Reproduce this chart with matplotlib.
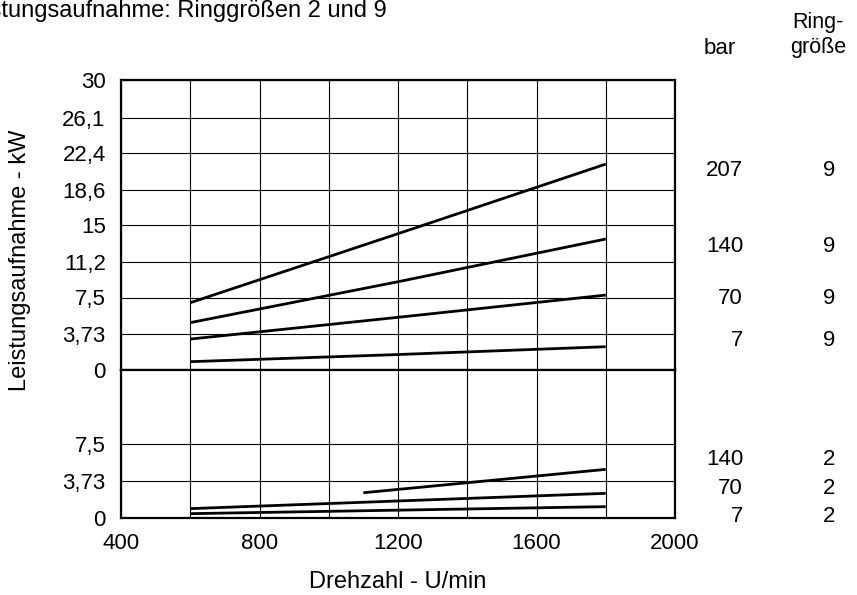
import matplotlib
matplotlib.use('Agg')
import matplotlib.pyplot as plt
import matplotlib.transforms as mtransforms

plt.rcParams['font.family'] = ['Liberation Sans', 'DejaVu Sans']
FS = 16
FS_LAB = 17

# --- data ---------------------------------------------------------------
rpm = [600, 1200, 1800]
ring9_bar = ['207', '140', '70', '7']
ring9_kw = [
    [6.96, 14.1, 21.3],
    [4.9, 9.13, 13.55],
    [3.2, 5.45, 7.75],
    [0.86, 1.6, 2.41],
]
ring2_bar = ['140', '70', '7']
ring2_rpm = [[1100, 1800], [600, 1800], [600, 1800]]
ring2_kw = [
    [2.56, 4.93],
    [0.95, 2.5],
    [0.44, 1.15],
]

upper_ticks = [0, 3.73, 7.5, 11.2, 15, 18.6, 22.4, 26.1, 30]
upper_labels = ['0', '3,73', '7,5', '11,2', '15', '18,6', '22,4', '26,1', '30']
lower_ticks = [0, 3.73, 7.5]
lower_labels = ['0', '3,73', '7,5']
x_ticks = [400, 600, 800, 1000, 1200, 1400, 1600, 1800, 2000]
x_labels = ['400', '', '800', '', '1200', '', '1600', '', '2000']

# label heights next to the curves (layout only)
ring9_label_y = [20.6, 12.8, 7.4, 3.1]
ring2_label_y = [5.9, 3.0, 0.13]

W, H = 857, 595
fig = plt.figure(figsize=(W / 100, H / 100), dpi=100)

L, R = 121 / W, 675 / W
y_top, y_mid, y_bot = 1 - 80 / H, 1 - 370 / H, 1 - 518 / H
ax_u = fig.add_axes([L, y_mid, R - L, y_top - y_mid])
ax_l = fig.add_axes([L, y_bot, R - L, y_mid - y_bot])

for ax in (ax_u, ax_l):
    ax.set_xlim(400, 2000)
    ax.set_xticks(x_ticks)
    ax.tick_params(length=0, labelsize=FS, pad=11)
    ax.grid(True, color='black', lw=0.8)
    ax.set_axisbelow(True)
    for sp in ax.spines.values():
        sp.set_linewidth(1.6)

ax_u.set_ylim(0, 30)
ax_u.set_yticks(upper_ticks)
ax_u.set_yticklabels(upper_labels)
ax_u.set_xticklabels([])

ax_l.set_ylim(0, 15)
ax_l.set_yticks(lower_ticks)
ax_l.set_yticklabels(lower_labels)
ax_l.set_xticklabels(x_labels)
ax_l.tick_params(axis='x', pad=11)

for ys in ring9_kw:
    ax_u.plot(rpm, ys, color='black', lw=2.0, solid_capstyle='butt', zorder=3)
for xs, ys in zip(ring2_rpm, ring2_kw):
    ax_l.plot(xs, ys, color='black', lw=2.0, solid_capstyle='butt', zorder=3)

# right-hand labels: bar / Ringgröße
bar_x, ring_x = 743 / W, 835 / W
tr_u = mtransforms.blended_transform_factory(fig.transFigure, ax_u.transData)
tr_l = mtransforms.blended_transform_factory(fig.transFigure, ax_l.transData)
for lab, yy in zip(ring9_bar, ring9_label_y):
    fig.text(bar_x, yy, lab, transform=tr_u, ha='right', va='center', fontsize=FS)
    fig.text(ring_x, yy, '9', transform=tr_u, ha='right', va='center', fontsize=FS)
for lab, yy in zip(ring2_bar, ring2_label_y):
    fig.text(bar_x, yy, lab, transform=tr_l, ha='right', va='center', fontsize=FS)
    fig.text(ring_x, yy, '2', transform=tr_l, ha='right', va='center', fontsize=FS)

fig.text(720 / W, 1 - 48 / H, 'bar', ha='center', va='center', fontsize=FS)
fig.text(818 / W, 1 - 35 / H, 'Ring-\ngröße', ha='center', va='center',
         fontsize=15.5, linespacing=1.3)

fig.text(387 / W, 1 - 11 / H, 'Leistungsaufnahme: Ringgrößen 2 und 9',
         ha='right', va='center', fontsize=FS_LAB)
fig.text(20 / W, 1 - 260 / H, 'Leistungsaufnahme - kW', rotation=90,
         ha='center', va='center', fontsize=FS_LAB)
fig.text(398 / W, 1 - 582 / H, 'Drehzahl - U/min', ha='center', va='center',
         fontsize=FS_LAB)

fig.savefig('out.png', dpi=100, facecolor='white')
